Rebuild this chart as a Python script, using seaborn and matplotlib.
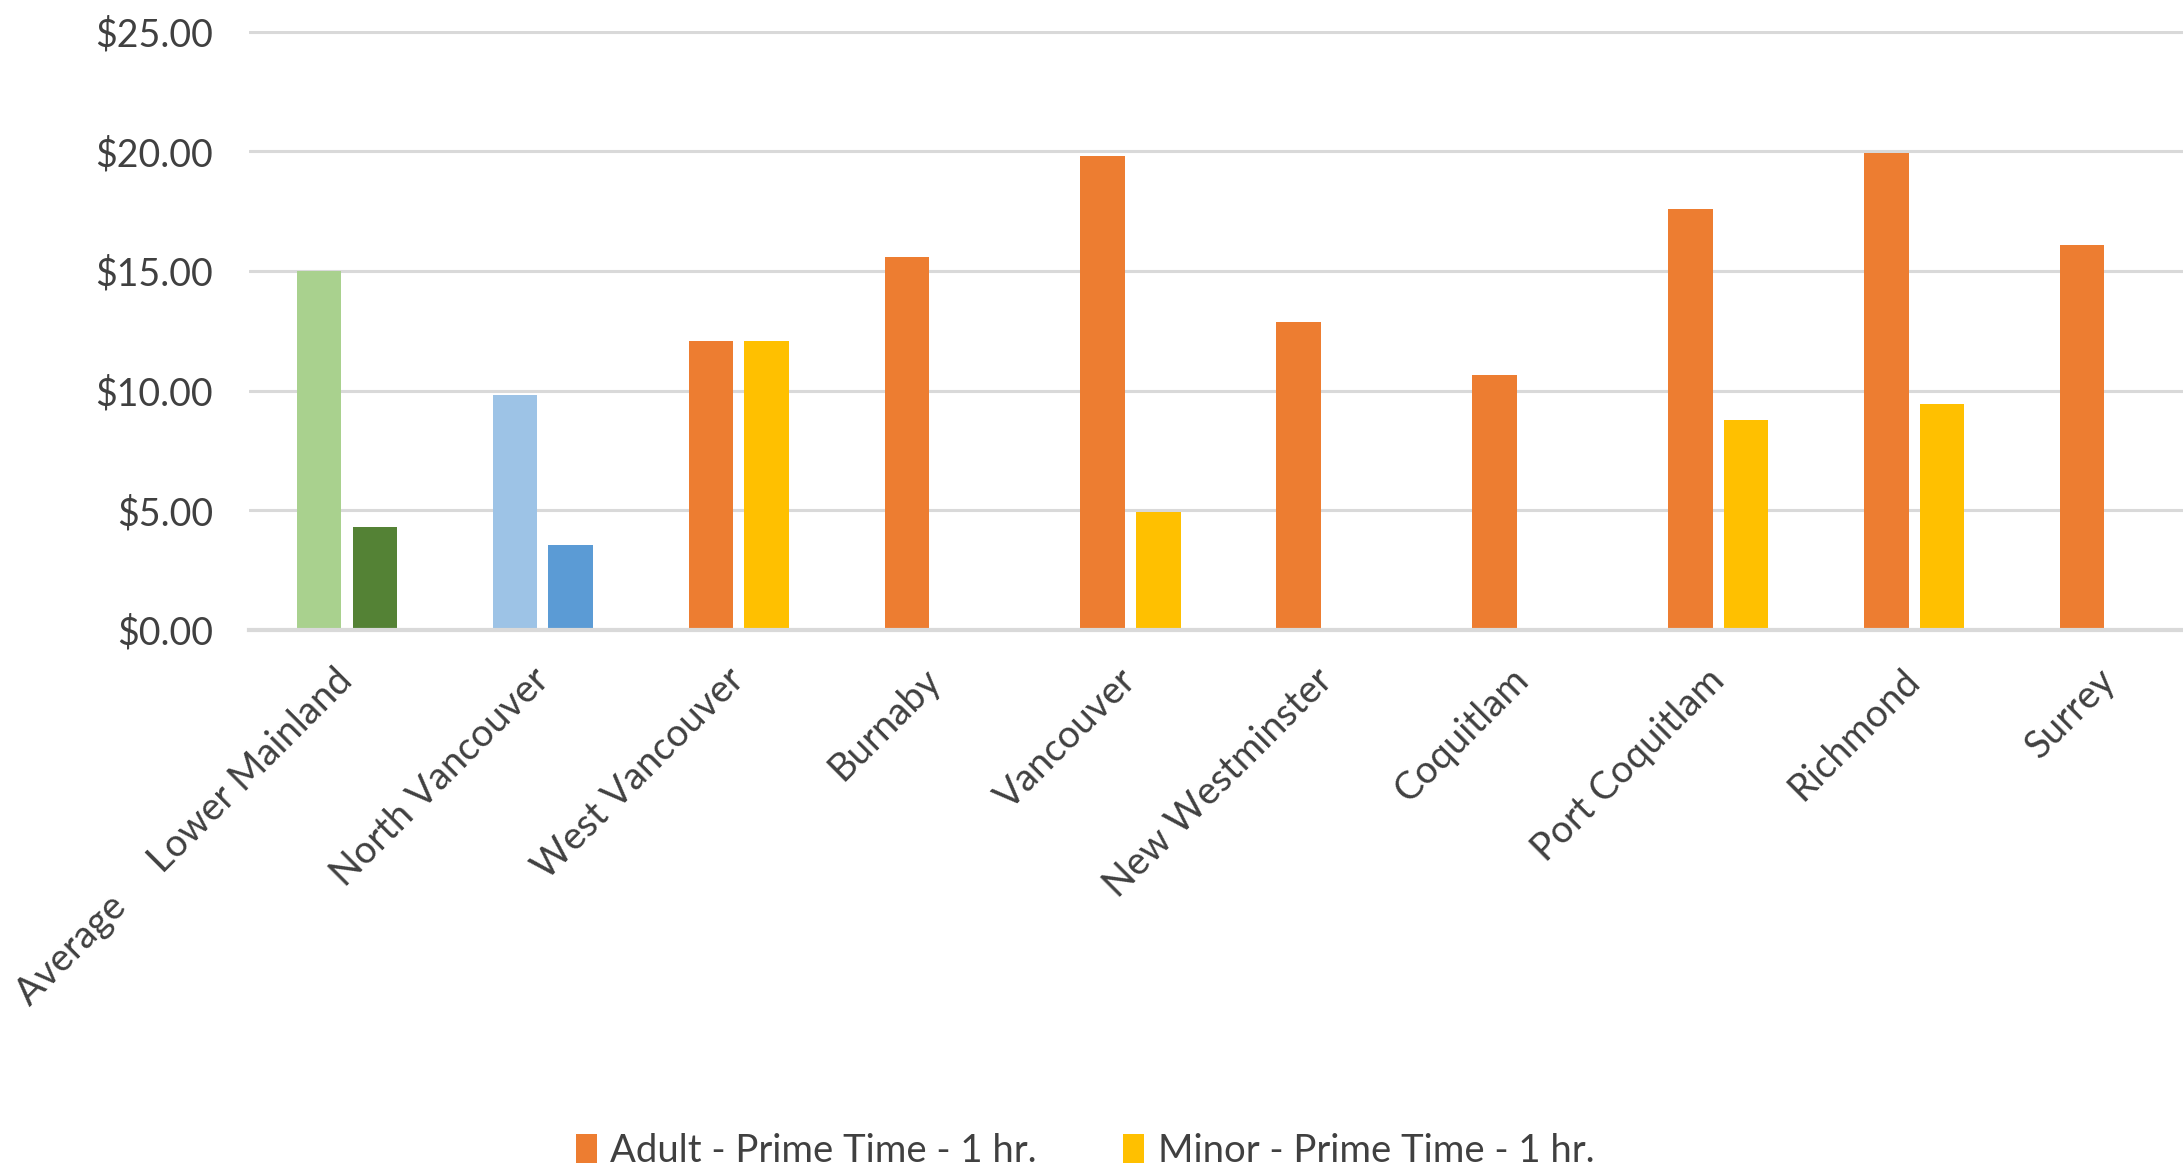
import numpy as np
import pandas as pd
import matplotlib
matplotlib.use("Agg")
import matplotlib.pyplot as plt
from matplotlib.patches import Patch
from matplotlib.ticker import StrMethodFormatter
import seaborn as sns

# Data (hourly ice rental rates)
cities = ["Average     Lower Mainland", "North Vancouver", "West Vancouver", "Burnaby",
          "Vancouver", "New Westminster", "Coquitlam", "Port Coquitlam",
          "Richmond", "Surrey"]
adult = [15.00, 9.83, 12.06, 15.58, 19.81, 12.86, 10.67, 17.61, 19.94, 16.10]
minor = [4.30, 3.56, 12.06, np.nan, 4.95, np.nan, np.nan, 8.79, 9.46, np.nan]
series = ["Adult - Prime Time - 1 hr.", "Minor - Prime Time - 1 hr."]
y_ticks = [0, 5, 10, 15, 20, 25]

# colours: default pair plus special pairs for the two first groups
base_colors = ["#ED7D31", "#FFC000"]
special_colors = {
    cities[0]: ["#A9D18E", "#548235"],
    cities[1]: ["#9DC3E6", "#5B9BD5"],
}

df = pd.DataFrame({"City": cities * 2,
                   "Rate": adult + minor,
                   "Type": [series[0]] * len(cities) + [series[1]] * len(cities)})

sns.set_style("white")
plt.rcParams['font.family'] = ['Lato', 'DejaVu Sans']
text_color = "#404040"

fig = plt.figure(figsize=(21.83, 11.68), dpi=100)
ax = fig.add_axes([249 / 2183, 1 - 630 / 1168, (2208 - 249) / 2183, (630 - 31) / 1168])

sns.barplot(data=df, x="City", y="Rate", hue="Type", order=cities, hue_order=series,
            palette=base_colors, saturation=1, width=0.568, gap=0.2, errorbar=None,
            linewidth=0, legend=False, ax=ax)

# recolour the bars of the first two groups
for h, container in enumerate(ax.containers):
    for bar in container:
        idx = int(round(bar.get_x() + bar.get_width() / 2))
        if 0 <= idx < len(cities) and cities[idx] in special_colors:
            bar.set_facecolor(special_colors[cities[idx]][h])

ax.set_xlim(-0.5, len(cities) - 0.5)
ax.set_ylim(0, 25.03)
ax.set_yticks(y_ticks)
ax.yaxis.set_major_formatter(StrMethodFormatter("${x:,.2f}"))
ax.yaxis.grid(True, color="#D9D9D9", linewidth=2.2)
ax.set_axisbelow(True)
for s in ["top", "right", "left"]:
    ax.spines[s].set_visible(False)
ax.spines["bottom"].set_color("#D9D9D9")
ax.spines["bottom"].set_linewidth(3)

ax.set_xlabel("")
ax.set_ylabel("")
ax.tick_params(axis="y", length=0, pad=26, labelsize=27, labelcolor=text_color)
ax.tick_params(axis="x", length=0, pad=32, labelsize=27.5, labelcolor=text_color)
plt.setp(ax.get_xticklabels(), rotation=45, ha="right", va="center", rotation_mode="anchor")

handles = [Patch(facecolor=c, edgecolor="none") for c in base_colors]
fig.legend(handles, series, loc="lower center", bbox_to_anchor=(0.497, -0.03), ncol=2,
           frameon=False, fontsize=27.5, handlelength=0.56, handleheight=0.8,
           handletextpad=0.35, columnspacing=2.25, labelcolor=text_color)

fig.savefig("out.png", dpi=100)
